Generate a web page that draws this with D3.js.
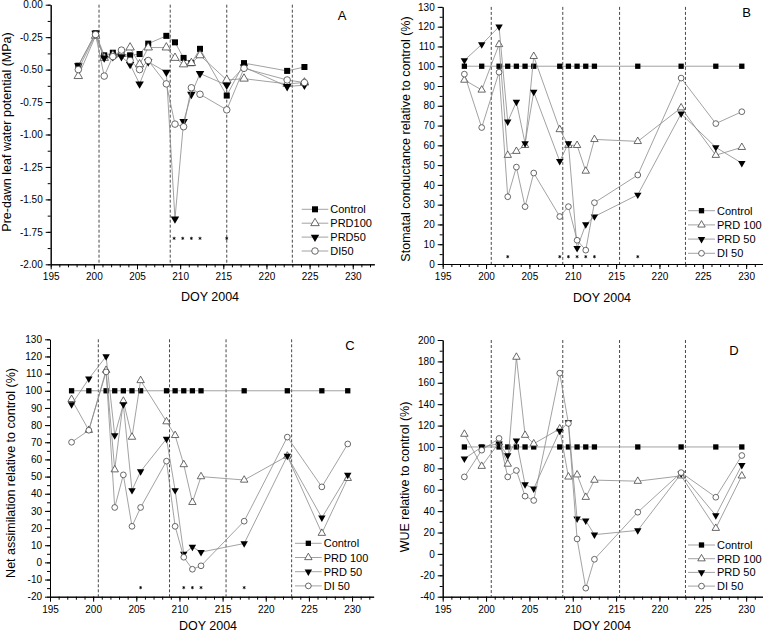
<!DOCTYPE html>
<html>
<head>
<meta charset="utf-8">
<script src="https://cdn.jsdelivr.net/npm/d3@7"></script>
<style>
  body { margin: 0; background: #fff; }
  svg { display: block; font-family: "Liberation Sans", Arial, sans-serif; }
</style>
</head>
<body>
<script>

// ---- data ----
// panel A: pre-dawn leaf water potential (MPa)
var daysA = [198.2, 200.2, 201.2, 202.2, 203.2, 204.2, 205.3, 206.3, 208.4, 209.4, 210.4, 211.3, 212.3, 215.4, 217.4, 222.4, 224.4];
var psiControl = [-0.47, -0.22, -0.39, -0.37, -0.38, -0.39, -0.38, -0.30, -0.24, -0.29, -0.41, -0.45, -0.34, -0.70, -0.45, -0.51, -0.48];
var psiPRD100  = [-0.55, -0.24, -0.41, -0.39, -0.38, -0.33, -0.46, -0.33, -0.33, -0.41, -0.46, -0.45, -0.39, -0.58, -0.57, -0.61, -0.60];
var psiPRD50   = [-0.47, -0.22, -0.41, -0.40, -0.40, -0.46, -0.61, -0.44, -0.52, -1.65, -0.90, -0.69, -0.53, -0.62, -0.48, -0.63, -0.62];
var psiDI50    = [-0.50, -0.23, -0.55, -0.40, -0.35, -0.43, -0.50, -0.43, -0.61, -0.92, -0.94, -0.64, -0.69, -0.81, -0.49, -0.58, -0.60];

// panels B, C, D share the same measurement days
var days = [197.5, 199.5, 201.5, 202.5, 203.5, 204.5, 205.5, 208.5, 209.5, 210.5, 211.5, 212.5, 217.5, 222.5, 226.5, 229.5];

// panel B: stomatal conductance relative to control (%)
var gsControl = [100, 100, 100, 100, 100, 100, 100, 100, 100, 100, 100, 100, 100, 100, 100, 100];
var gsPRD100  = [93, 88, 111, 55, 57, 60, 105, 68, 60, 60, 47, 63, 62, 79, 55, 59];
var gsPRD50   = [103, 111, 120, 72, 82, 61, 87, 52, 61, 8, 20, 24, 35, 76, 59, 51];
var gsDI50    = [96, 69, 97, 34, 49, 29, 46, 24, 29, 12, 7, 31, 45, 94, 71, 77];

// panel C: net assimilation relative to control (%)
var anControl = [100, 100, 100, 100, 100, 100, 100, 100, 100, 100, 100, 100, 100, 100, 100, 100];
var anPRD100  = [95, 77, 112, 54, 94, 73, 106, 82, 74, 57, 35, 50, 48, 62, 17, 49];
var anPRD50   = [92, 107, 120, 74, 92, 42, 53, 72, 42, 5, 9, 6, 11, 62, 26, 51];
var anDI50    = [70, 77, 111, 32, 51, 21, 32, 59, 21, 3, -4, -2, 24, 73, 44, 69];

// panel D: WUE relative to control (%)
var wueControl = [100, 100, 100, 100, 100, 100, 100, 100, 100, 100, 100, 100, 100, 100, 100, 100];
var wuePRD100  = [112, 82, 104, 84, 184, 111, 103, 117, 72, 74, 53, 69, 68, 73, 24, 73];
var wuePRD50   = [89, 100, 103, 92, 106, 65, 61, 115, 123, 33, 31, 18, 22, 75, 36, 83];
var wueDI50    = [72, 97, 108, 72, 78, 54, 50, 169, 122, 14, -32, -5, 39, 76, 53, 92];

// irrigation events (dashed lines) and significance marks
var eventDays = [200.6, 208.85, 215.4, 223.0];
var starsA = [209.3, 210.3, 211.3, 212.3, 215.4];
var starsB = [202.5, 208.5, 209.5, 210.5, 211.5, 212.5, 217.5];
var starsC = [205.5, 210.5, 211.5, 212.5, 217.5];

var legendA = ["Control", "PRD100", "PRD50", "DI50"];
var legendBCD = ["Control", "PRD 100", "PRD 50", "DI 50"];

var width = 763,
    height = 634;

var svg = d3.select("body").append("svg")
    .attr("width", width)
    .attr("height", height);

svg.append("rect").attr("width", width).attr("height", height).attr("fill", "#fff");

var lineColor = "#8a8a8a";

function drawPanel(cfg) {
    var x = d3.scaleLinear().domain([195, 232.5]).range([cfg.x0, cfg.x0 + 37.5 * cfg.ppu]);
    var y = d3.scaleLinear().domain(cfg.yDomain).range([cfg.yBottom, cfg.yTop]);
    var g = svg.append("g");

    // dashed irrigation lines
    g.selectAll(".event")
        .data(eventDays)
        .enter().append("line")
        .attr("x1", function(d) { return x(d); })
        .attr("x2", function(d) { return x(d); })
        .attr("y1", y(cfg.yDomain[1]))
        .attr("y2", y(cfg.yDomain[0]))
        .attr("stroke", "#333")
        .attr("stroke-width", 0.9)
        .attr("stroke-dasharray", "3,2");

    // x axis, minor then major ticks
    g.append("g")
        .attr("transform", "translate(0," + cfg.yBottom + ")")
        .call(d3.axisBottom(x).tickValues(d3.range(195, 233, 1)).tickSize(3).tickSizeOuter(0).tickFormat(""));
    var xa = g.append("g")
        .attr("transform", "translate(0," + cfg.yBottom + ")")
        .call(d3.axisBottom(x).tickValues(d3.range(195, 231, 5)).tickSize(5).tickSizeOuter(0).tickPadding(4).tickFormat(function(d) { return String(d); }));
    xa.selectAll("text").attr("font-size", 10).attr("font-family", "Liberation Sans, Arial, sans-serif").attr("fill", "#000");

    // y axis
    g.append("g")
        .attr("transform", "translate(" + cfg.x0 + ",0)")
        .call(d3.axisLeft(y).tickValues(cfg.yMinor).tickSize(3).tickSizeOuter(0).tickFormat(""));
    var ya = g.append("g")
        .attr("transform", "translate(" + cfg.x0 + ",0)")
        .call(d3.axisLeft(y).tickValues(cfg.yMajor).tickSize(5).tickSizeOuter(0).tickPadding(3).tickFormat(cfg.yFormat));
    ya.selectAll("text").attr("font-size", 10).attr("font-family", "Liberation Sans, Arial, sans-serif").attr("fill", "#000");

    // axis titles
    g.append("text")
        .attr("x", cfg.xTitle[0])
        .attr("y", cfg.xTitle[1])
        .attr("text-anchor", "middle")
        .style("font-size", "12.5px")
        .text("DOY 2004");
    g.append("text")
        .attr("transform", "translate(" + cfg.yTitle[0] + "," + cfg.yTitle[1] + ") rotate(-90)")
        .attr("text-anchor", "middle")
        .style("font-size", "12.5px")
        .text(cfg.yLabel);

    // panel letter
    g.append("text")
        .attr("x", cfg.letter[0])
        .attr("y", cfg.letter[1])
        .attr("text-anchor", "middle")
        .style("font-size", "13px")
        .text(cfg.letter[2]);

    // series: line then markers
    var line = d3.line()
        .x(function(d) { return x(d[0]); })
        .y(function(d) { return y(d[1]); });

    cfg.series.forEach(function(s, i) {
        var pts = cfg.days.map(function(d, j) { return [d, s[j]]; });
        g.append("path")
            .attr("d", line(pts))
            .attr("fill", "none")
            .attr("stroke", lineColor)
            .attr("stroke-width", 0.8);
        g.selectAll(".m" + i)
            .data(pts)
            .enter().append("path")
            .attr("transform", function(d) {
                return "translate(" + x(d[0]) + "," + y(d[1]) + ")" + (i === 2 ? " rotate(180)" : "");
            })
            .attr("d", symbolPath(i, cfg.big))
            .attr("fill", (i === 0 || i === 2) ? "#000" : "#fff")
            .attr("stroke", (i === 0 || i === 2) ? "none" : "#444")
            .attr("stroke-width", 0.8);
    });

    // significance stars
    if (cfg.stars) {
        g.selectAll(".star")
            .data(cfg.stars)
            .enter().append("path")
            .attr("transform", function(d) { return "translate(" + x(d) + "," + y(cfg.starLevel) + ")"; })
            .attr("d", d3.symbol().type(d3.symbolAsterisk).size(7)())
            .attr("fill", "none")
            .attr("stroke", "#000")
            .attr("stroke-width", 0.8);
    }

    // legend
    var lg = cfg.legend;
    cfg.legendLabels.forEach(function(label, i) {
        var ly = lg.y + i * lg.step;
        g.append("line")
            .attr("x1", lg.x1).attr("x2", lg.x2)
            .attr("y1", ly).attr("y2", ly)
            .attr("stroke", lineColor)
            .attr("stroke-width", 0.8);
        g.append("path")
            .attr("transform", "translate(" + (lg.x1 + lg.x2) / 2 + "," + ly + ")" + (i === 2 ? " rotate(180)" : ""))
            .attr("d", symbolPath(i, cfg.big))
            .attr("fill", (i === 0 || i === 2) ? "#000" : "#fff")
            .attr("stroke", (i === 0 || i === 2) ? "none" : "#444")
            .attr("stroke-width", 0.8);
        g.append("text")
            .attr("x", lg.x2 + 2)
            .attr("y", ly + 4)
            .style("font-size", "11px")
            .text(label);
    });
}

function symbolPath(i, big) {
    var k = big ? 1.3 : 1;
    if (i === 0) return d3.symbol().type(d3.symbolSquare).size(28 * k)();
    if (i === 1 || i === 2) return d3.symbol().type(d3.symbolTriangle).size(24 * k)();
    return d3.symbol().type(d3.symbolCircle).size(26 * k)();
}

drawPanel({
    x0: 50.7, ppu: 8.63, yTop: 4.7, yBottom: 264.3,
    yDomain: [-2, 0],
    yMajor: d3.range(0, 9).map(function(i) { return -2 + i * 0.25; }),
    yMinor: d3.range(0, 17).map(function(i) { return -2 + i * 0.125; }),
    yFormat: function(d) { return d.toFixed(2); },
    yLabel: "Pre-dawn leaf water potential (MPa)",
    xTitle: [210, 301], yTitle: [11, 132],
    letter: [342, 19.5, "A"],
    days: daysA,
    series: [psiControl, psiPRD100, psiPRD50, psiDI50],
    big: true,
    stars: starsA, starLevel: -1.80,
    legend: { x1: 301.7, x2: 328.3, y: 209.3, step: 13.9 },
    legendLabels: legendA
});

drawPanel({
    x0: 442.7, ppu: 8.67, yTop: 6.9, yBottom: 264,
    yDomain: [0, 130],
    yMajor: d3.range(0, 131, 10),
    yMinor: d3.range(0, 131, 5),
    yFormat: function(d) { return String(d); },
    yLabel: "Stomatal conductance relative to control (%)",
    xTitle: [602, 302], yTitle: [410, 139],
    letter: [746.7, 17, "B"],
    days: days,
    series: [gsControl, gsPRD100, gsPRD50, gsDI50],
    big: false,
    stars: starsB, starLevel: 3.7,
    legend: { x1: 688, x2: 715, y: 210.7, step: 14.2 },
    legendLabels: legendBCD
});

drawPanel({
    x0: 50, ppu: 8.63, yTop: 339.3, yBottom: 596.7,
    yDomain: [-20, 130],
    yMajor: d3.range(-20, 131, 10),
    yMinor: d3.range(-20, 131, 5),
    yFormat: function(d) { return String(d); },
    yLabel: "Net assimilation relative to control (%)",
    xTitle: [208, 630], yTitle: [15, 473],
    letter: [350, 349.5, "C"],
    days: days,
    series: [anControl, anPRD100, anPRD50, anDI50],
    big: false,
    stars: starsC, starLevel: -14.7,
    legend: { x1: 295, x2: 321.7, y: 543.3, step: 14.2 },
    legendLabels: legendBCD
});

drawPanel({
    x0: 442.7, ppu: 8.67, yTop: 340, yBottom: 596.7,
    yDomain: [-40, 200],
    yMajor: d3.range(-40, 201, 20),
    yMinor: d3.range(-40, 201, 10),
    yFormat: function(d) { return String(d); },
    yLabel: "WUE relative to control (%)",
    xTitle: [602, 630], yTitle: [409, 477],
    letter: [734, 355, "D"],
    days: days,
    series: [wueControl, wuePRD100, wuePRD50, wueDI50],
    big: false,
    stars: null,
    legend: { x1: 688, x2: 715, y: 545, step: 13.7 },
    legendLabels: legendBCD
});

</script>
</body>
</html>
